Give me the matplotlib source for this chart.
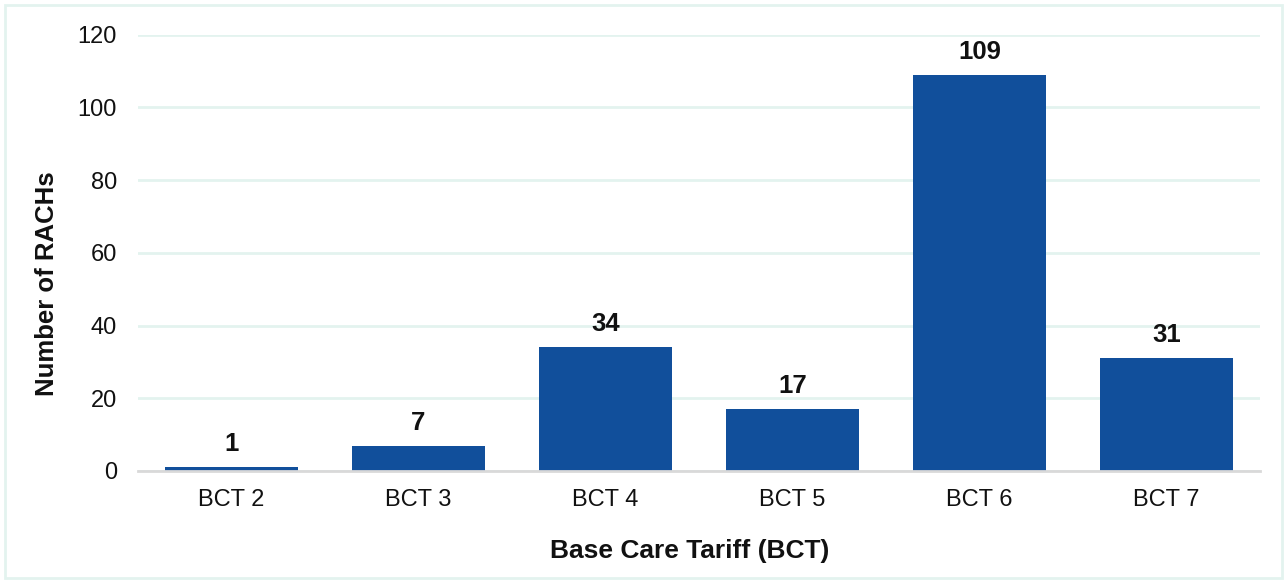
import matplotlib.pyplot as plt
from matplotlib.patches import Rectangle

categories = ["BCT 2", "BCT 3", "BCT 4", "BCT 5", "BCT 6", "BCT 7"]
counts = [1, 7, 34, 17, 109, 31]
y_ticks = [0, 20, 40, 60, 80, 100, 120]

plt.rcParams['font.family'] = ['Liberation Sans', 'DejaVu Sans']

fig = plt.figure(figsize=(12.87, 5.80), dpi=100)
ax = fig.add_axes([0.107, 0.188, 0.872, 0.752])

# light border around the whole chart
fig.patches.append(Rectangle((0.004, 0.004), 0.992, 0.988, transform=fig.transFigure,
                             fill=False, edgecolor='#e3f3ef', linewidth=2))

x = list(range(len(categories)))
bars = ax.bar(x, counts, width=0.71, color='#114f9b', zorder=3)
for b, v in zip(bars, counts):
    ax.text(b.get_x() + b.get_width() / 2, v + 3, str(v), ha='center', va='bottom',
            fontsize=18.5, fontweight='bold', color='#111111')

ax.set_xlim(-0.5, len(categories) - 0.5)
ax.set_ylim(0, 120)
ax.set_yticks(y_ticks)
ax.set_xticks(x)
ax.set_xticklabels(categories)
ax.tick_params(axis='both', length=0, labelsize=17, colors='#111111')
ax.tick_params(axis='x', pad=13)
ax.tick_params(axis='y', pad=15)

ax.grid(axis='y', color='#e3f3ef', linewidth=2, zorder=0)
for s in ['top', 'right', 'left']:
    ax.spines[s].set_visible(False)
ax.spines['bottom'].set_color('#d9d9d9')
ax.spines['bottom'].set_linewidth(2)
ax.spines['bottom'].set_zorder(4)

fig.text(0.5357, 0.05, "Base Care Tariff (BCT)", ha='center', va='center',
         fontsize=19, fontweight='bold', color='#111111')
fig.text(0.0365, 0.5103, "Number of RACHs", ha='center', va='center', rotation=90,
         fontsize=18.5, fontweight='bold', color='#111111')

plt.savefig("out.png", dpi=100)
plt.close()
